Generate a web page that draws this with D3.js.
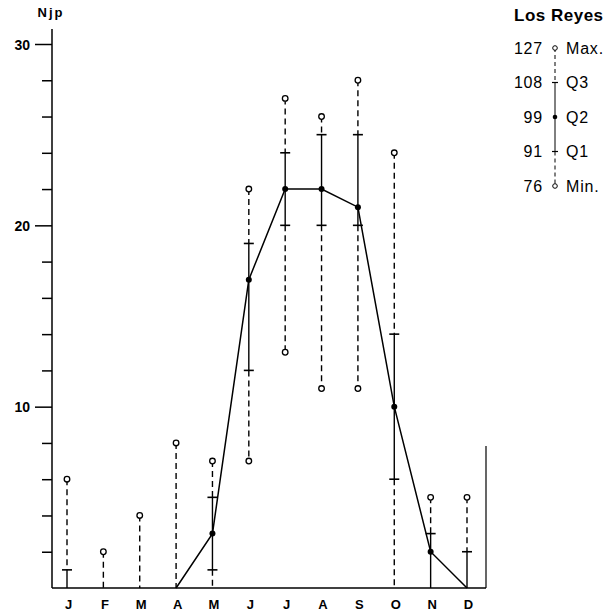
<!DOCTYPE html>
<html>
<head>
<meta charset="utf-8">
<script src="https://cdn.jsdelivr.net/npm/d3@7"></script>
<style>
  body { margin: 0; background: #fff; }
  svg { display: block; font-family: "Liberation Sans", Arial, sans-serif; }
</style>
</head>
<body>
<svg id="graphique" width="610" height="613"></svg>
<script>
// mois et statistiques (nombre de jours de pluie)
var mois = ["J", "F", "M", "A", "M", "J", "J", "A", "S", "O", "N", "D"];
var valMax = [6, 2, 4, 8, 7, 22, 27, 26, 28, 24, 5, 5];
var valQ3  = [1, 0, 0, 0, 5, 19, 24, 25, 25, 14, 3, 2];
var valQ2  = [0, 0, 0, 0, 3, 17, 22, 22, 21, 10, 2, 0];
var valQ1  = [0, 0, 0, 0, 1, 12, 20, 20, 20, 6, 0, 0];
var valMin = [0, 0, 0, 0, 0, 7, 13, 11, 11, 0, 0, 0];

var yTicks = [2, 4, 6, 8, 10, 12, 14, 16, 18, 20, 22, 24, 26, 28, 30];
var yLabels = [10, 20, 30];

// legende
var legendeTitre = "Los Reyes";
var legendeValeurs = ["127", "108", "99", "91", "76"];
var legendeNoms = ["Max.", "Q3", "Q2", "Q1", "Min."];

var graphique = d3.select("#graphique");
var DASH = "6,4";

var xScale = d3.scaleLinear().domain([0, 11]).range([67, 467]);
var yScale = d3.scaleLinear().domain([0, 30]).range([588, 44]);

//// axe vertical
graphique.append("line")
  .attr("x1", 52).attr("x2", 52)
  .attr("y1", 29).attr("y2", yScale(0))
  .attr("stroke", "black").attr("stroke-width", 1.5);

var yAxis = d3.axisLeft(yScale)
  .tickValues(yTicks)
  .tickSize(9)
  .tickFormat("");
var gy = graphique.append("g")
  .attr("transform", "translate(52,0)")
  .call(yAxis);
gy.select(".domain").remove();
gy.selectAll(".tick line").attr("stroke-width", 1.5)
  .attr("x2", function(d) { return yLabels.indexOf(d) >= 0 ? -17 : -10; });
gy.selectAll(".tick")
  .filter(function(d) { return yLabels.indexOf(d) >= 0; })
  .append("text")
  .attr("x", -22).attr("dy", "0.36em")
  .attr("text-anchor", "end")
  .attr("fill", "black")
  .style("font-size", "14px").style("font-weight", "bold")
  .text(function(d) { return d; });

graphique.append("text")
  .attr("x", 51).attr("y", 17)
  .attr("text-anchor", "middle")
  .style("font-size", "13px").style("font-weight", "bold")
  .style("letter-spacing", "2px")
  .text("Njp");

//// axe horizontal
graphique.append("line")
  .attr("x1", 52).attr("x2", 486)
  .attr("y1", yScale(0)).attr("y2", yScale(0))
  .attr("stroke", "black").attr("stroke-width", 1.5);
graphique.append("line")
  .attr("x1", 486).attr("x2", 486)
  .attr("y1", 446).attr("y2", yScale(0))
  .attr("stroke", "black").attr("stroke-width", 1.2);

var xAxis = d3.axisBottom(xScale)
  .tickValues(d3.range(12))
  .tickSize(0)
  .tickFormat(function(i) { return mois[i]; });
var gx = graphique.append("g")
  .attr("transform", "translate(1," + (yScale(0) + 9) + ")")
  .call(xAxis);
gx.select(".domain").remove();
gx.selectAll("text")
  .attr("fill", "black")
  .style("font-size", "13px").style("font-weight", "bold")
  .style("font-family", "'Liberation Sans', Arial, sans-serif");

//// boites (max - q3 - q1 - min)
function segment(x, v1, v2, pointille) {
  if (v1 == v2) return;
  graphique.append("line")
    .attr("x1", x).attr("x2", x)
    .attr("y1", yScale(v1)).attr("y2", yScale(v2))
    .attr("stroke", "black").attr("stroke-width", 1.4)
    .attr("stroke-dasharray", pointille ? DASH : null);
}
function trait(x, v) {
  if (v <= 0) return;
  graphique.append("line")
    .attr("x1", x - 5).attr("x2", x + 5)
    .attr("y1", yScale(v)).attr("y2", yScale(v))
    .attr("stroke", "black").attr("stroke-width", 1.6);
}
function rond(x, v) {
  graphique.append("circle")
    .attr("cx", x).attr("cy", yScale(v)).attr("r", 2.8)
    .attr("fill", "white").attr("stroke", "black").attr("stroke-width", 1.3);
}

for (var i = 0; i < mois.length; i++) {
  var x = xScale(i);
  segment(x, valMax[i], valQ3[i], true);
  segment(x, valQ3[i], valQ1[i], false);
  segment(x, valQ1[i], valMin[i], true);
  trait(x, valQ3[i]);
  trait(x, valQ1[i]);
  rond(x, valMax[i]);
  if (valMin[i] > 0) rond(x, valMin[i]);
}

//// courbe des medianes
var line = d3.line()
  .x(function(d, i) { return xScale(i + 3); })
  .y(function(d) { return yScale(d); });
graphique.append("path")
  .attr("d", line(valQ2.slice(3)))
  .attr("stroke", "black").attr("stroke-width", 1.5)
  .attr("fill", "none");
graphique.selectAll(".mediane")
  .data(valQ2.slice(3))
  .enter().append("circle")
  .attr("class", "mediane")
  .attr("cx", function(d, i) { return xScale(i + 3); })
  .attr("cy", function(d) { return yScale(d); })
  .attr("r", function(d) { return d > 0 ? 3 : 0; })
  .attr("fill", "black");

//// legende
var leg = graphique.append("g");
leg.append("text")
  .attr("x", 514).attr("y", 21)
  .style("font-size", "17px").style("font-weight", "bold")
  .style("letter-spacing", "0.5px")
  .text(legendeTitre);

var yLeg = d3.scalePoint().domain(legendeNoms).range([48, 186]);
var xSym = 555;
function legSeg(a, b, pointille) {
  leg.append("line")
    .attr("x1", xSym).attr("x2", xSym)
    .attr("y1", yLeg(a)).attr("y2", yLeg(b))
    .attr("stroke", "black").attr("stroke-width", 1)
    .attr("stroke-dasharray", pointille ? "4,3" : null);
}
legSeg("Max.", "Q3", true);
legSeg("Q3", "Q1", false);
legSeg("Q1", "Min.", true);
["Q3", "Q1"].forEach(function(n) {
  leg.append("line")
    .attr("x1", xSym - 3).attr("x2", xSym + 3)
    .attr("y1", yLeg(n)).attr("y2", yLeg(n))
    .attr("stroke", "black").attr("stroke-width", 1.2);
});
["Max.", "Min."].forEach(function(n) {
  leg.append("circle")
    .attr("cx", xSym).attr("cy", yLeg(n)).attr("r", 2.3)
    .attr("fill", "white").attr("stroke", "black").attr("stroke-width", 1);
});
leg.append("circle")
  .attr("cx", xSym).attr("cy", yLeg("Q2")).attr("r", 2.3)
  .attr("fill", "black");

legendeNoms.forEach(function(n, i) {
  leg.append("text")
    .attr("x", 543).attr("y", yLeg(n)).attr("dy", "0.36em")
    .attr("text-anchor", "end")
    .style("font-size", "16px").style("letter-spacing", "0.8px")
    .text(legendeValeurs[i]);
  leg.append("text")
    .attr("x", 566).attr("y", yLeg(n)).attr("dy", "0.36em")
    .style("font-size", "16px").style("letter-spacing", "0.8px")
    .text(n);
});
</script>
</body>
</html>
